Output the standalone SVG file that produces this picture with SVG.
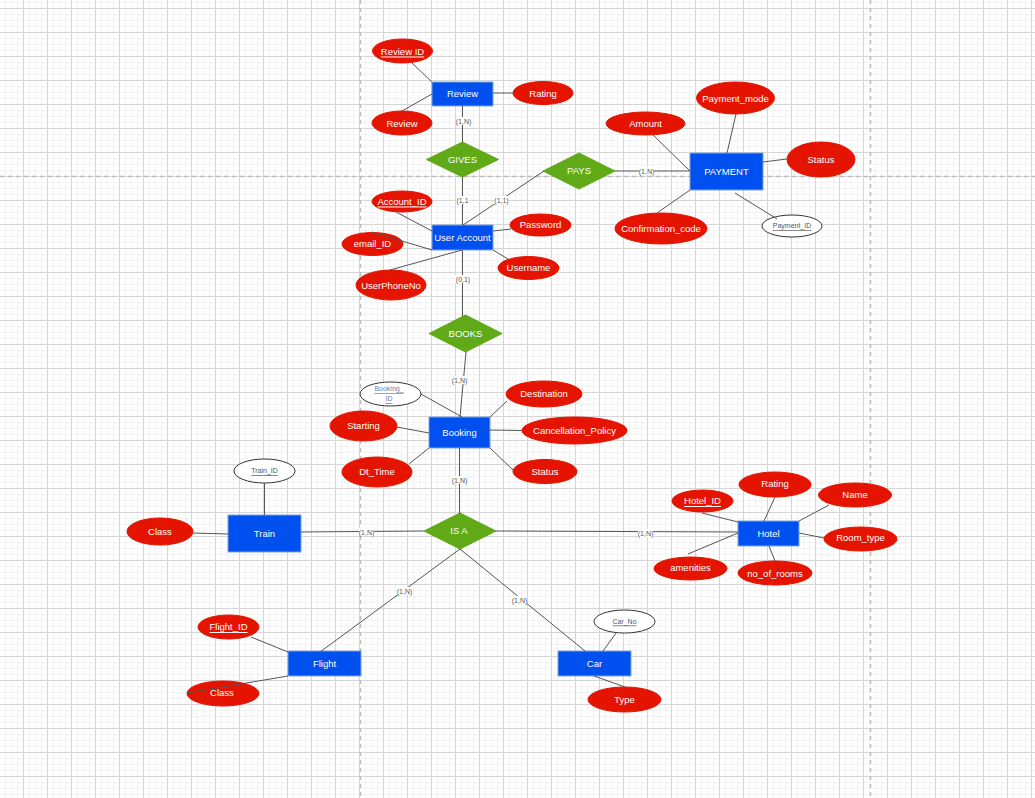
<svg xmlns="http://www.w3.org/2000/svg" width="1035" height="798" viewBox="0 0 1035 798">
<defs>
<pattern id="grid" x="23" y="8" width="24" height="24" patternUnits="userSpaceOnUse">
<path d="M6.5 0V24M12.5 0V24M18.5 0V24M0 6.5H24M0 12.5H24M0 18.5H24" stroke="#f3f3f3" stroke-width="1" fill="none"/>
<path d="M0.5 0V24M0 0.5H24" stroke="#d6d6d6" stroke-width="1" fill="none"/>
</pattern>
<style>
.ent{fill:#0050ef;stroke:#7ea6e0;stroke-width:1}
.att{fill:#e51400;stroke:#e51400;stroke-width:1}
.key{fill:#ffffff;stroke:#333333;stroke-width:1}
.rel{fill:#60a917;stroke:#60a917;stroke-width:1}
.t{font-family:"Liberation Sans",Arial,sans-serif;fill:#ffffff;text-anchor:middle;dominant-baseline:central}
.te{font-size:9.5px}
.ta{font-size:9.5px}
.tk{font-family:"Liberation Sans",Arial,sans-serif;font-size:7px;fill:#555555;text-anchor:middle;dominant-baseline:central;text-decoration:underline}
.u{text-decoration:underline}
.ln{stroke:#555555;stroke-width:1;fill:none}
.lb{font-family:"Liberation Sans",Arial,sans-serif;font-size:7px;fill:#555555;text-anchor:middle;dominant-baseline:central}
.lbg{fill:#ffffff}
.page{stroke:#bdbdbd;stroke-width:1.5;stroke-dasharray:4 4;fill:none}
</style>
</defs>
<rect width="1035" height="798" fill="#ffffff"/>
<rect width="1035" height="798" fill="url(#grid)"/>
<path class="page" d="M360.5 0V798M870.5 0V798M0 176.5H1035"/>

<g id="review">
<rect class="ent" x="432" y="82" width="61" height="24"/>
<text class="t te" x="462.5" y="93">Review</text>
</g>
<g id="review-id">
<ellipse class="att" cx="402.5" cy="51" rx="30" ry="12"/>
<text class="t ta u" x="402.5" y="51">Review ID</text>
</g>
<g id="review-text">
<ellipse class="att" cx="402" cy="123" rx="30" ry="12"/>
<text class="t ta" x="402" y="123">Review</text>
</g>
<g id="review-rating">
<ellipse class="att" cx="543" cy="93" rx="30" ry="11.5"/>
<text class="t ta" x="543" y="93">Rating</text>
</g>
<g id="gives">
<polygon class="rel" points="462.5,142 498.5,159.5 462.5,177 426.5,159.5"/>
<text class="t te" x="462.5" y="159">GIVES</text>
</g>
<g id="pays">
<polygon class="rel" points="579,153 615,171 579,189 543,171"/>
<text class="t te" x="579" y="170.5">PAYS</text>
</g>
<g id="payment">
<rect class="ent" x="690" y="153" width="73" height="37"/>
<text class="t te" x="726.5" y="171">PAYMENT</text>
</g>
<g id="payment-mode">
<ellipse class="att" cx="735.5" cy="98" rx="39" ry="16"/>
<text class="t ta" x="735.5" y="98">Payment_mode</text>
</g>
<g id="amount">
<ellipse class="att" cx="645.5" cy="123.5" rx="39.5" ry="11.5"/>
<text class="t ta" x="645.5" y="123">Amount</text>
</g>
<g id="payment-status">
<ellipse class="att" cx="821" cy="159.5" rx="34" ry="17.5"/>
<text class="t ta" x="821" y="159">Status</text>
</g>
<g id="confirmation-code">
<ellipse class="att" cx="661" cy="228.5" rx="46" ry="15.5"/>
<text class="t ta" x="661" y="228">Confirmation_code</text>
</g>
<g id="payment-id">
<ellipse class="key" cx="792" cy="226" rx="30" ry="11"/>
<text class="tk" x="792" y="225.5">Payment_ID</text>
</g>
<g id="user-account">
<rect class="ent" x="432" y="225" width="61" height="25"/>
<text class="t te" x="462.5" y="237">User Account</text>
</g>
<g id="account-id">
<ellipse class="att" cx="402" cy="201.5" rx="30" ry="10.5"/>
<text class="t ta u" x="402" y="201">Account_ID</text>
</g>
<g id="password">
<ellipse class="att" cx="540.5" cy="225" rx="30.5" ry="11"/>
<text class="t ta" x="540.5" y="224.5">Password</text>
</g>
<g id="email-id">
<ellipse class="att" cx="372.5" cy="244" rx="30.5" ry="11.5"/>
<text class="t ta" x="372.5" y="243.5">email_ID</text>
</g>
<g id="username">
<ellipse class="att" cx="528.5" cy="268" rx="30.5" ry="11.5"/>
<text class="t ta" x="528.5" y="267.5">Username</text>
</g>
<g id="userphoneno">
<ellipse class="att" cx="391" cy="285" rx="35" ry="15"/>
<text class="t ta" x="391" y="285">UserPhoneNo</text>
</g>
<g id="books">
<polygon class="rel" points="465.5,315 502,333.5 465.5,352 429,333.5"/>
<text class="t te" x="465.5" y="333">BOOKS</text>
</g>
<g id="booking">
<rect class="ent" x="429" y="417" width="61" height="31"/>
<text class="t te" x="459.5" y="432">Booking</text>
</g>
<g id="booking-id">
<ellipse class="key" cx="390.5" cy="394" rx="30.5" ry="12"/>
<text class="tk" x="389" y="388.5" style="fill:#6b7fa8">Booking_</text>
<text class="tk" x="389" y="398.5" style="fill:#6b7fa8">ID</text>
</g>
<g id="destination">
<ellipse class="att" cx="544" cy="394" rx="38" ry="13"/>
<text class="t ta" x="544" y="393">Destination</text>
</g>
<g id="starting">
<ellipse class="att" cx="363.5" cy="426" rx="33.5" ry="15"/>
<text class="t ta" x="363.5" y="425.5">Starting</text>
</g>
<g id="cancellation-policy">
<ellipse class="att" cx="574.5" cy="430.5" rx="52.5" ry="13.5"/>
<text class="t ta" x="574.5" y="430">Cancellation_Policy</text>
</g>
<g id="dt-time">
<ellipse class="att" cx="377" cy="472" rx="35" ry="15"/>
<text class="t ta" x="377" y="471">Dt_Time</text>
</g>
<g id="booking-status">
<ellipse class="att" cx="545" cy="471.5" rx="32" ry="12"/>
<text class="t ta" x="545" y="471">Status</text>
</g>
<g id="isa">
<polygon class="rel" points="460,513 496,531 460,549 424,531"/>
<text class="t te" x="459" y="530.5">IS A</text>
</g>
<g id="train">
<rect class="ent" x="228" y="515" width="73" height="37"/>
<text class="t te" x="264.5" y="533">Train</text>
</g>
<g id="train-id">
<ellipse class="key" cx="264.5" cy="471" rx="30.5" ry="12"/>
<text class="tk" x="264.5" y="470.5">Train_ID</text>
</g>
<g id="train-class">
<ellipse class="att" cx="160" cy="531.5" rx="33" ry="13.5"/>
<text class="t ta" x="160" y="531">Class</text>
</g>
<g id="hotel">
<rect class="ent" x="738" y="521" width="61" height="25"/>
<text class="t te" x="768.5" y="533">Hotel</text>
</g>
<g id="hotel-id">
<ellipse class="att" cx="702.5" cy="501" rx="30.5" ry="11"/>
<text class="t ta u" x="702.5" y="500.5">Hotel_ID</text>
</g>
<g id="hotel-rating">
<ellipse class="att" cx="775" cy="484.5" rx="36" ry="12.5"/>
<text class="t ta" x="775" y="483">Rating</text>
</g>
<g id="hotel-name">
<ellipse class="att" cx="855" cy="495" rx="36.5" ry="12"/>
<text class="t ta" x="855" y="494.5">Name</text>
</g>
<g id="room-type">
<ellipse class="att" cx="860.5" cy="539" rx="36.5" ry="12"/>
<text class="t ta" x="860.5" y="537.5">Room_type</text>
</g>
<g id="amenities">
<ellipse class="att" cx="690.5" cy="568.5" rx="36.5" ry="11.5"/>
<text class="t ta" x="690.5" y="567.5">amenities</text>
</g>
<g id="no-of-rooms">
<ellipse class="att" cx="775" cy="573" rx="37" ry="12"/>
<text class="t ta" x="775" y="573">no_of_rooms</text>
</g>
<g id="flight">
<rect class="ent" x="288" y="651" width="73" height="25"/>
<text class="t te" x="324.5" y="663">Flight</text>
</g>
<g id="flight-id">
<ellipse class="att" cx="228.5" cy="627" rx="30.5" ry="12"/>
<text class="t ta u" x="228.5" y="626.5">Flight_ID</text>
</g>
<g id="flight-class">
<ellipse class="att" cx="223" cy="693.5" rx="36" ry="12.5"/>
<text class="t ta" x="222" y="692.5">Class</text>
</g>
<g id="car">
<rect class="ent" x="558" y="651" width="73" height="25"/>
<text class="t te" x="594.5" y="663">Car</text>
</g>
<g id="car-no">
<ellipse class="key" cx="624.5" cy="621.5" rx="30.5" ry="11.5"/>
<text class="tk" x="624.5" y="621">Car_No</text>
</g>
<g id="car-type">
<ellipse class="att" cx="624.5" cy="699.5" rx="36.5" ry="12.5"/>
<text class="t ta" x="624.5" y="699">Type</text>
</g>

<g id="connectors">
<path class="ln" d="M412 63L432 82M402 111L432 94M493 93H513"/>
<path class="ln" d="M462.5 106V142M462.5 177V225M544 171L463 225M615 171H690"/>
<path class="ln" d="M653 135L690 171M736 114L727 153M763 162L787 159M657 213L690 190M735 193L777 219"/>
<path class="ln" d="M396 212L432 231M372 232L432 250M390 270L462 250M493 231L511 229M493 250L508 259"/>
<path class="ln" d="M462.5 250V316M466 352L460 417"/>
<path class="ln" d="M421 394L462 417M397 427L429 433M409 464L429 448M507 401L490 417M487 430L522 430.5M490 448L514 471"/>
<path class="ln" d="M459.5 448V514M496 531L738 532M424 531L301 532"/>
<path class="ln" d="M264.5 483V515M193 533L228 534"/>
<path class="ln" d="M702 513L738 522M775 497L764 521M829 505L799 521M799 533L824 538M688 554L738 533M775 561L769 546"/>
<path class="ln" d="M460 549L320 652M460 549L585 651"/>
<path class="ln" d="M251 637L288 652M187 693L288 676M616 633L603 651M594 676L625 687"/>
<rect class="lbg" x="456" y="117" width="15" height="8"/>
<text class="lb" x="463.5" y="121">(1,N)</text>
<rect class="lbg" x="456" y="196" width="13" height="8"/>
<text class="lb" x="462.5" y="200">(1,1</text>
<rect class="lbg" x="494" y="196" width="15" height="8"/>
<text class="lb" x="501.5" y="200">(1,1)</text>
<rect class="lbg" x="639" y="167" width="15" height="8"/>
<text class="lb" x="646.5" y="171">(1,N)</text>
<rect class="lbg" x="455" y="275" width="15" height="8"/>
<text class="lb" x="463" y="279">(0,1)</text>
<rect class="lbg" x="452" y="376" width="15" height="8"/>
<text class="lb" x="459.5" y="380">(1,N)</text>
<rect class="lbg" x="452" y="476" width="15" height="8"/>
<text class="lb" x="459.5" y="480">(1,N)</text>
<rect class="lbg" x="359" y="528" width="15" height="8"/>
<text class="lb" x="366.5" y="532">(1,N)</text>
<rect class="lbg" x="638" y="529" width="15" height="8"/>
<text class="lb" x="645.5" y="533">(1,N)</text>
<rect class="lbg" x="397" y="587" width="15" height="8"/>
<text class="lb" x="404.5" y="591">(1,N)</text>
<rect class="lbg" x="512" y="596" width="15" height="8"/>
<text class="lb" x="519.5" y="600">(1,N)</text>
</g>
</svg>
